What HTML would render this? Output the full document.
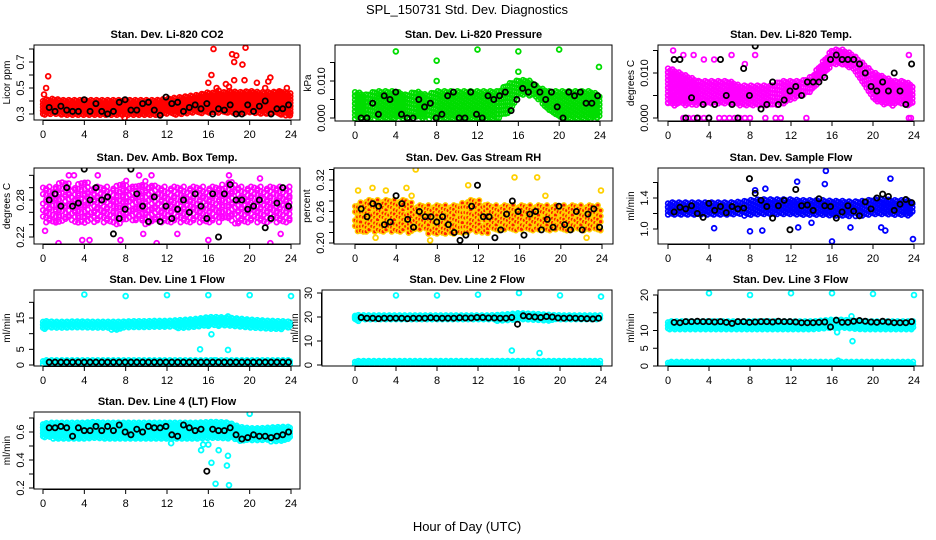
<!DOCTYPE html>
<html><head><meta charset="utf-8"><style>
body{margin:0;background:#fff;}
svg{display:block;font-family:"Liberation Sans",sans-serif;}
</style></head><body>
<svg id="chart" width="936" height="540" viewBox="0 0 936 540" xmlns="http://www.w3.org/2000/svg">
<rect width="936" height="540" fill="#fff"/>
<text x="467" y="14" font-size="13" text-anchor="middle">SPL_150731  Std. Dev. Diagnostics</text>
<text x="467" y="531" font-size="13" text-anchor="middle">Hour of Day (UTC)</text>
</svg>
<script>
// ---------- data ----------
const bandHours = [0,1,2,3,4,5,6,7,8,9,10,11,12,13,14,15,16,17,18,19,20,21,22,23,24];
const blackHours = Array.from({length:42},(_,i)=>0.6+i*0.565);

const co2Hi = [0.40,0.41,0.40,0.40,0.40,0.40,0.40,0.40,0.40,0.40,0.40,0.40,0.41,0.42,0.43,0.44,0.46,0.45,0.47,0.46,0.47,0.46,0.46,0.47,0.45];
const co2Lo = [0.30,0.30,0.30,0.30,0.30,0.30,0.30,0.30,0.30,0.30,0.30,0.30,0.30,0.30,0.30,0.31,0.31,0.31,0.31,0.31,0.31,0.31,0.31,0.30,0.30];
const co2OutX = [0.5,0.3,0.1,16.5,18.3,18.7,19.6,18.5,19.3,16.3,16,18.5,19.5,20.7,22,21.8,21.5,23.6,17.7,18,17,16.8,22.8,7.9,23.5,23.9];
const co2OutY = [0.59,0.5,0.45,0.8,0.76,0.75,0.81,0.7,0.68,0.6,0.54,0.56,0.56,0.54,0.58,0.55,0.5,0.5,0.53,0.51,0.48,0.5,0.47,0.27,0.29,0.29];
const co2Black = [0.35,0.32,0.36,0.33,0.32,0.32,0.41,0.32,0.38,0.32,0.30,0.32,0.39,0.41,0.33,0.33,0.38,0.39,0.33,0.29,0.43,0.38,0.39,0.32,0.35,0.37,0.34,0.38,0.30,0.34,0.33,0.37,0.30,0.30,0.37,0.32,0.36,0.40,0.30,0.34,0.34,0.37];

const presHi = [0.007,0.006,0.007,0.007,0.007,0.006,0.007,0.006,0.007,0.007,0.007,0.007,0.007,0.007,0.007,0.009,0.010,0.010,0.008,0.007,0.007,0.007,0.007,0.007,0.006];
const presLo = [0,0,0,0,0,0,0,0,0,0,0,0,0,0,0,0.001,0.006,0.0065,0.005,0.002,0,0,0,0,0];
const presOutX = [4,8,8,12,16,16,20,23.9];
const presOutY = [0.018,0.0155,0.010,0.0185,0.018,0.0125,0.0185,0.0138];
const presBlack = [0,0,0.004,0.001,0.006,0.005,0.007,0.001,0,0,0.005,0.003,0.004,0,0.001,0.006,0.007,0,0,0.007,0.001,0,0.006,0.005,0.006,0.007,0.002,0.005,0.008,0.007,0.009,0.007,0.005,0.007,0.003,0,0.007,0.006,0.007,0.004,0.004,0.006];

const tempHi = [0.011,0.010,0.009,0.008,0.008,0.008,0.008,0.007,0.007,0.007,0.007,0.008,0.008,0.008,0.009,0.012,0.015,0.015,0.014,0.012,0.010,0.009,0.008,0.008,0.007];
const tempLo = [0.003,0.003,0.003,0.003,0.003,0.003,0.003,0.003,0.003,0.003,0.003,0.003,0.004,0.005,0.006,0.009,0.012,0.012,0.011,0.008,0.004,0.003,0.003,0.003,0.003];
const tempOutX = [1.5,2,2.5,3,3.5,4,5,5.5,6,6.5,7,7.5,8,9.5,10.5,11,13.5,23.5,23.7,0.5,1.5,2.5,3.5,4.5,6.2,7.5,8.5,23.5];
const tempOutY = [0,0,0,0,0,0,0,0,0,0,0,0,0,0,0,0,0,0,0,0.015,0.014,0.014,0.013,0.013,0.014,0.012,0.014,0.014];
const tempBlack = [0.013,0.013,0,0.0045,0,0.003,0,0.003,0.013,0.005,0.003,0,0.011,0.005,0.016,0.002,0.003,0.008,0.003,0.004,0.006,0.007,0.005,0.008,0.008,0.008,0.009,0.013,0.014,0.013,0.013,0.013,0.012,0.010,0.007,0.006,0.008,0.006,0.010,0.006,0.003,0.012];

const ambHi = [0.30,0.30,0.31,0.30,0.31,0.30,0.30,0.30,0.31,0.30,0.31,0.30,0.30,0.30,0.30,0.30,0.30,0.30,0.31,0.30,0.30,0.30,0.30,0.30,0.30];
const ambLo = [0.245,0.24,0.245,0.245,0.24,0.245,0.245,0.24,0.245,0.245,0.24,0.245,0.245,0.24,0.245,0.245,0.24,0.245,0.245,0.24,0.245,0.245,0.24,0.245,0.245];
const ambOutX = [0.2,1.5,2.3,3.8,4.5,7.5,9.7,11,13,16,22,23,3,5.3,9.3,10.5,18,21,2.5];
const ambOutY = [0.23,0.21,0.20,0.215,0.215,0.215,0.225,0.21,0.225,0.215,0.21,0.225,0.32,0.32,0.32,0.32,0.32,0.315,0.32];
const ambBlack = [0.28,0.29,0.27,0.30,0.27,0.275,0.33,0.28,0.30,0.28,0.285,0.225,0.25,0.265,0.33,0.29,0.27,0.245,0.285,0.245,0.27,0.25,0.265,0.28,0.26,0.29,0.27,0.25,0.29,0.22,0.29,0.305,0.28,0.28,0.265,0.27,0.28,0.235,0.25,0.275,0.30,0.27];

const rhHi = [0.27,0.28,0.28,0.28,0.28,0.28,0.27,0.27,0.27,0.27,0.27,0.28,0.28,0.27,0.27,0.27,0.27,0.27,0.27,0.27,0.27,0.27,0.27,0.27,0.27];
const rhLo = [0.22,0.22,0.22,0.22,0.22,0.22,0.22,0.22,0.215,0.215,0.215,0.22,0.22,0.22,0.22,0.22,0.22,0.22,0.22,0.22,0.22,0.22,0.22,0.22,0.22];
const rhOutX = [0.3,1.7,3,5,5.9,5.5,15.5,17.7,23.9,2,7.3,22.5,11,18.5];
const rhOutY = [0.30,0.305,0.30,0.305,0.34,0.29,0.325,0.325,0.30,0.21,0.205,0.21,0.31,0.29];
const rhBlack = [0.265,0.25,0.275,0.27,0.235,0.24,0.29,0.275,0.245,0.23,0.26,0.25,0.25,0.24,0.25,0.235,0.22,0.205,0.215,0.27,0.31,0.25,0.25,0.21,0.225,0.255,0.28,0.26,0.215,0.255,0.26,0.225,0.245,0.23,0.27,0.235,0.225,0.26,0.225,0.255,0.265,0.23];

const sampHi = [1.33,1.33,1.33,1.33,1.33,1.33,1.33,1.34,1.36,1.37,1.37,1.37,1.37,1.36,1.36,1.36,1.35,1.35,1.34,1.35,1.37,1.37,1.36,1.36,1.34];
const sampLo = [1.17,1.17,1.17,1.17,1.17,1.17,1.17,1.18,1.19,1.19,1.19,1.19,1.19,1.19,1.18,1.18,1.18,1.18,1.18,1.18,1.19,1.19,1.19,1.19,1.18];
const sampOutX = [8,4.5,9.2,12.7,16,23.9,15.4,15.3,12.6,21.7,20.8,21.2,17.8,14,8.5,9.5];
const sampOutY = [0.97,1.01,0.98,1.02,0.84,0.87,1.75,1.58,1.61,1.65,1.02,0.98,1.02,1.08,1.50,1.52];
const sampBlack = [1.22,1.28,1.26,1.30,1.20,1.15,1.33,1.24,1.29,1.21,1.29,1.26,1.27,1.65,1.46,1.37,1.29,1.14,1.30,1.37,0.99,1.51,1.30,1.31,1.24,1.39,1.30,1.29,1.14,1.22,1.30,1.23,1.17,1.35,1.26,1.40,1.45,1.42,1.24,1.32,1.38,1.34];

const l1Hi = [13.8,13.5,13.5,13.6,13.6,13.5,13.5,13.5,13.6,13.7,13.7,13.8,13.8,14.0,14.2,14.5,15.0,15.0,14.8,14.5,14.2,14.0,13.8,13.7,13.5];
const l1Lo = [11.8,11.8,11.8,11.8,11.8,11.8,11.8,11.5,11.8,11.9,12.0,12.0,12.0,12.1,12.2,12.4,12.6,12.6,12.5,12.3,12.1,12.0,11.9,11.8,11.8];
const l1BaseHi = [1.2,1.2,1.2,1.2,1.2,1.2,1.2,1.2,1.2,1.2,1.2,1.2,1.2,1.2,1.2,1.2,1.2,1.2,1.2,1.2,1.2,1.2,1.2,1.2,1.2];
const l1BaseLo = [0.4,0.4,0.4,0.4,0.4,0.4,0.4,0.4,0.4,0.4,0.4,0.4,0.4,0.4,0.4,0.4,0.4,0.4,0.4,0.4,0.4,0.4,0.4,0.4,0.4];
const l1OutX = [4,8,12,16,20,24,15.2,17.9,16.3,16,17,17.9,16.6];
const l1OutY = [22.5,22,22.3,22.3,22.3,22,5,4.8,9.8,12.5,12.5,15.5,1.5];
const l1Black = [0.9,0.9,0.9,0.9,0.9,0.9,0.9,0.9,0.9,0.9,0.9,0.9,0.9,0.9,0.9,0.9,0.9,0.9,0.9,0.9,0.9,0.9,0.9,0.9,0.9,0.9,0.9,0.9,0.9,0.9,0.9,0.9,0.9,0.9,0.9,0.9,0.9,0.9,0.9,0.9,0.9,0.9];

const l2Hi = [20.5,20.3,20.3,20.3,20.3,20.3,20.3,20.3,20.3,20.3,20.3,20.3,20.3,20.3,20.5,20.8,21.2,21.0,20.8,20.5,20.3,20.3,20.3,20.3,20.3];
const l2Lo = [18.8,18.8,18.8,18.8,18.8,18.8,18.8,18.8,18.8,18.8,18.8,18.8,18.8,18.8,18.8,19.0,19.2,19.2,18.8,18.8,18.8,18.8,18.8,18.8,18.8];
const l2BaseHi = [1.3,1.3,1.3,1.3,1.3,1.3,1.3,1.3,1.3,1.3,1.3,1.3,1.3,1.3,1.3,1.3,1.3,1.3,1.3,1.3,1.3,1.3,1.3,1.3,1.3];
const l2BaseLo = [0,0,0,0,0,0,0,0,0,0,0,0,0,0,0,0,0,0,0,0,0,0,0,0,0];
const l2OutX = [4,8,12,16,20,24,15.3,18,0];
const l2OutY = [29,29,29.3,30,29,28.5,6,5,20];
const l2Black = [19.8,19.5,19.5,19.3,19.5,19.5,19.5,19.5,19.3,19.5,19.5,19.5,19.7,19.5,19.5,19.5,19.5,19.7,19.6,19.6,19.8,19.8,19.6,19.6,19.5,19.5,19.8,17.0,20.5,20.2,20.0,19.8,20.2,20.0,19.6,19.5,19.6,19.5,19.4,19.3,19.2,19.5];

const l3Hi = [12.3,12.3,12.3,12.3,12.3,12.3,12.3,12.3,12.3,12.3,12.3,12.3,12.3,12.3,12.3,12.5,12.8,12.8,12.5,12.3,12.3,12.3,12.3,12.3,12.3];
const l3Lo = [10.5,10.5,10.5,10.5,10.5,10.5,10.5,10.3,10.5,10.5,10.5,10.5,10.5,10.5,10.5,10.6,10.8,10.8,10.6,10.5,10.5,10.5,10.5,10.5,10.5];
const l3BaseHi = [0.9,0.9,0.9,0.9,0.9,0.9,0.9,0.9,0.9,0.9,0.9,0.9,0.9,0.9,0.9,0.9,0.9,0.9,0.9,0.9,0.9,0.9,0.9,0.9,0.9];
const l3BaseLo = [0.2,0.2,0.2,0.2,0.2,0.2,0.2,0.2,0.2,0.2,0.2,0.2,0.2,0.2,0.2,0.2,0.2,0.2,0.2,0.2,0.2,0.2,0.2,0.2,0.2];
const l3OutX = [4,8,12,16,20,24,16.5,17.9,18,16.6];
const l3OutY = [20.5,20,20.5,20.5,20.3,20,9.5,14,7,1.5];
const l3Black = [12.3,12.2,12.5,12.5,12.6,12.5,12.5,12.4,12.5,12.3,12.0,12.5,12.5,12.3,12.4,12.5,12.5,12.4,12.6,12.5,12.5,12.4,12.2,12.2,12.2,12.3,12.4,11.0,12.9,12.3,12.3,12.6,12.8,12.6,12.4,12.3,12.6,12.4,12.2,12.2,12.2,12.5];

const l4Hi = [0.655,0.66,0.66,0.66,0.66,0.665,0.66,0.66,0.66,0.66,0.66,0.66,0.66,0.66,0.66,0.66,0.665,0.665,0.66,0.63,0.62,0.62,0.625,0.63,0.63];
const l4Lo = [0.56,0.56,0.56,0.56,0.56,0.56,0.56,0.56,0.56,0.56,0.56,0.56,0.56,0.56,0.56,0.56,0.56,0.56,0.56,0.54,0.54,0.54,0.54,0.54,0.55];
const l4OutX = [20,12,15.3,15.5,16,16.3,16.7,17,17.8,17.9,18,12.4];
const l4OutY = [0.73,0.66,0.47,0.51,0.51,0.38,0.23,0.47,0.36,0.43,0.22,0.52];
const l4Black = [0.63,0.63,0.64,0.63,0.57,0.63,0.61,0.61,0.64,0.61,0.64,0.61,0.65,0.60,0.58,0.62,0.60,0.64,0.63,0.63,0.64,0.58,0.57,0.65,0.63,0.61,0.62,0.32,0.62,0.61,0.61,0.63,0.58,0.55,0.56,0.58,0.57,0.57,0.56,0.57,0.58,0.60];

const xTickValues = [0,4,8,12,16,20,24];

// ---------- rendering ----------
const NS = "http://www.w3.org/2000/svg";
const svg = document.getElementById("chart");
function mk(tag, attrs, parent){
  const e = document.createElementNS(NS, tag);
  for (const k in attrs) e.setAttribute(k, attrs[k]);
  (parent||svg).appendChild(e);
  return e;
}
const panels = [
 {id:"co2", title:"Stan. Dev. Li-820 CO2", ylab:"Licor ppm", box:[34,45,300,120], xp:[43,291], ym:[0.3,114,0.7,62], ticks:[0.3,0.4,0.5,0.6,0.7,0.8], labels:[[0.3,"0.3"],[0.5,"0.5"],[0.7,"0.7"]], color:"#ff0000", hi:co2Hi, lo:co2Lo, ox:co2OutX, oy:co2OutY, blk:co2Black, dens:1.3},
 {id:"pressure", title:"Stan. Dev. Li-820 Pressure", ylab:"kPa", box:[335,45,612,121], xp:[355,600], ym:[0,118,0.01,81], ticks:[0,0.005,0.01,0.015], labels:[[0,"0.000"],[0.01,"0.010"]], color:"#00dd00", hi:presHi, lo:presLo, ox:presOutX, oy:presOutY, blk:presBlack, dens:1.1},
 {id:"temp", title:"Stan. Dev. Li-820 Temp.", ylab:"degrees C", box:[658,45,924,121], xp:[668,914], ym:[0,118,0.01,73], ticks:[0,0.005,0.01,0.015], labels:[[0,"0.000"],[0.01,"0.010"]], color:"#ff00ff", hi:tempHi, lo:tempLo, ox:tempOutX, oy:tempOutY, blk:tempBlack, dens:1.1},
 {id:"amb-box", title:"Stan. Dev. Amb. Box Temp.", ylab:"degrees C", box:[34,168,300,244], xp:[43,291], ym:[0.22,237,0.28,200], ticks:[0.22,0.24,0.26,0.28,0.30,0.32], labels:[[0.22,"0.22"],[0.28,"0.28"]], color:"#ff00ff", hi:ambHi, lo:ambLo, ox:ambOutX, oy:ambOutY, blk:ambBlack, dens:0.75},
 {id:"gas-rh", title:"Stan. Dev. Gas Stream RH", ylab:"percent", box:[334,168,613,244], xp:[355,602], ym:[0.20,243,0.32,180], ticks:[0.20,0.22,0.24,0.26,0.28,0.30,0.32,0.34], labels:[[0.20,"0.20"],[0.26,"0.26"],[0.32,"0.32"]], color:"#ffd000", inner:"#ff2000", hi:rhHi, lo:rhLo, ox:rhOutX, oy:rhOutY, blk:rhBlack, dens:0.85},
 {id:"sample-flow", title:"Stan. Dev. Sample Flow", ylab:"ml/min", box:[658,168,924,244], xp:[668,914], ym:[1.0,229,1.4,198], ticks:[1.0,1.2,1.4,1.6], labels:[[1.0,"1.0"],[1.4,"1.4"]], color:"#0000ff", hi:sampHi, lo:sampLo, ox:sampOutX, oy:sampOutY, blk:sampBlack, dens:1.1},
 {id:"line1", title:"Stan. Dev. Line 1 Flow", ylab:"ml/min", box:[34,290,300,366], xp:[43,291], ym:[0,365,15,318], ticks:[0,5,10,15,20], labels:[[0,"0"],[5,"5"],[15,"15"]], color:"#00ffff", hi:l1Hi, lo:l1Lo, hi2:l1BaseHi, lo2:l1BaseLo, ox:l1OutX, oy:l1OutY, blk:l1Black, dens:1.4},
 {id:"line2", title:"Stan. Dev. Line 2 Flow", ylab:"ml/min", box:[322,290,612,366], xp:[355,601], ym:[0,365,30,293], ticks:[0,10,20,30], labels:[[0,"0"],[10,"10"],[20,"20"],[30,"30"]], color:"#00ffff", hi:l2Hi, lo:l2Lo, hi2:l2BaseHi, lo2:l2BaseLo, ox:l2OutX, oy:l2OutY, blk:l2Black, dens:1.4},
 {id:"line3", title:"Stan. Dev. Line 3 Flow", ylab:"ml/min", box:[658,290,923,366], xp:[668,914], ym:[0,366,20,295], ticks:[0,5,10,15,20], labels:[[0,"0"],[5,"5"],[10,"10"],[20,"20"]], color:"#00ffff", hi:l3Hi, lo:l3Lo, hi2:l3BaseHi, lo2:l3BaseLo, ox:l3OutX, oy:l3OutY, blk:l3Black, dens:1.4},
 {id:"line4", title:"Stan. Dev. Line 4 (LT) Flow", ylab:"ml/min", box:[34,412,300,489], xp:[43,291], ym:[0.6,432,0.2,488], ticks:[0.2,0.3,0.4,0.5,0.6,0.7], labels:[[0.2,"0.2"],[0.4,"0.4"],[0.6,"0.6"]], color:"#00ffff", hi:l4Hi, lo:l4Lo, ox:l4OutX, oy:l4OutY, blk:l4Black, dens:1.4}
];

function interp(arr, h){
  const i = Math.min(Math.floor(h), 23), f = h - i;
  return arr[i]*(1-f) + arr[i+1]*f;
}

panels.forEach(p=>{
  const [L,T,R,B] = p.box;
  const g = mk("g", {});
  
  
  const xs = h => p.xp[0] + h*(p.xp[1]-p.xp[0])/24;
  const ys = v => p.ym[1] + (v-p.ym[0])*(p.ym[3]-p.ym[1])/(p.ym[2]-p.ym[0]);
  const clip = "clip-" + p.id;
  const cp = mk("clipPath", {id:clip}, g);
  mk("rect", {x:L, y:T, width:R-L, height:B-T}, cp);
  const marks = mk("g", {"clip-path":"url(#"+clip+")", fill:"none"}, g);
  
  

  function band(hiA, loA, tag){
    const bg = mk("g", {stroke:p.color, "stroke-width":1.7}, marks);
    
    
    const pxStep = 2.4/p.dens;
    const span = p.xp[1]-p.xp[0];
    let k = 0;
    for (let px = 0; px <= span; px += pxStep){
      const h = px*24/span;
      const y1 = ys(interp(hiA,h)), y2 = ys(interp(loA,h));
      const top = Math.min(y1,y2), bot = Math.max(y1,y2);
      let j = 0;
      for (let y = top; y <= bot + 0.1; y += 2.8/p.dens){
        j++;
        if (p.dens < 1 && ((k*7 + j*3) % 6) < 1) continue;
        const off = ((k+j)%3 - 1)*1.0;
        mk("circle", {cx:(p.xp[0]+px).toFixed(1), cy:(y+off).toFixed(1), r:2.3}, bg);
        if (p.inner) mk("circle", {cx:(p.xp[0]+px).toFixed(1), cy:(y+off).toFixed(1), r:0.8, stroke:p.inner}, bg);
      }
      k++;
    }
  }
  band(p.hi, p.lo, "band");
  if (p.hi2) band(p.hi2, p.lo2, "base-band");

  const og = mk("g", {stroke:p.color, "stroke-width":1.8}, marks);
  
  
  p.ox.forEach((h,i)=>{
    const c = mk("circle", {cx:xs(h), cy:ys(p.oy[i]), r:2.4}, og);
    
    
  });
  const kg = mk("g", {stroke:"#000", "stroke-width":1.8}, marks);
  
  
  p.blk.forEach((v,i)=>{
    const c = mk("circle", {cx:xs(blackHours[i]), cy:ys(v), r:2.6}, kg);
    
    
  });

  const fr = mk("rect", {x:L, y:T, width:R-L, height:B-T, fill:"none", stroke:"#000", "stroke-width":1}, g);
  
  

  const t = mk("text", {x:(L+R)/2, y:T-7, "font-size":11, "font-weight":"bold", "text-anchor":"middle"}, g);
  t.textContent = p.title;
  
  

  const xa = mk("g", {}, g);
  
  
  mk("line", {x1:xs(0), x2:xs(24), y1:B+0.5, y2:B+0.5, stroke:"#000"}, xa);
  xTickValues.forEach(v=>{
    mk("line", {x1:xs(v), x2:xs(v), y1:B, y2:B+5, stroke:"#000"}, xa);
    const tx = mk("text", {x:xs(v), y:B+18, "font-size":11, "text-anchor":"middle"}, xa);
    tx.textContent = v;
    
    
  });

  const ya = mk("g", {}, g);
  
  
  const tv = p.ticks.filter(v=>ys(v)>=T-1 && ys(v)<=B+1);
  mk("line", {x1:L-0.5, x2:L-0.5, y1:ys(tv[0]), y2:ys(tv[tv.length-1]), stroke:"#000"}, ya);
  tv.forEach(v=>{
    mk("line", {x1:L-5, x2:L, y1:ys(v), y2:ys(v), stroke:"#000"}, ya);
  });
  p.labels.forEach(([v,s])=>{
    const y = ys(v);
    const tx = mk("text", {x:L-10, y:y, "font-size":11, "text-anchor":"middle", transform:"rotate(-90 "+(L-10)+" "+y+")"}, ya);
    tx.textContent = s;
    
    
  });
  const cy = (T+B)/2;
  const yl = mk("text", {x:L-24, y:cy, "font-size":10, "text-anchor":"middle", transform:"rotate(-90 "+(L-24)+" "+cy+")"}, g);
  yl.textContent = p.ylab;
  
  
});
</script>
</body></html>
